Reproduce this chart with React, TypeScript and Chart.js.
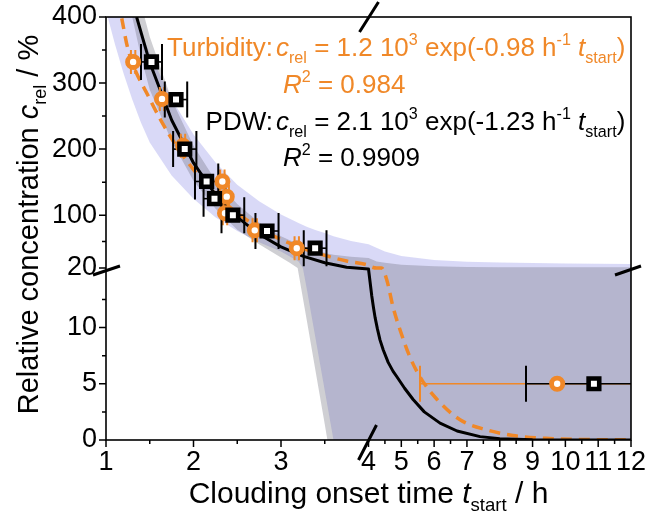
import React, { useEffect, useRef } from "react";
import { Chart, registerables } from "chart.js";
Chart.register(...registerables);

// ---------- data (t in h, c in %) ----------
const turbT = [1.31, 1.64, 1.88, 2.33, 2.38, 2.36, 2.7, 3.18, 9.75];
const turbC = [332, 276, 205, 151, 128, 103, 77, 50, 5];
const turbTErr = [0.025, 0.025, 0.025, 0.025, 0.025, 0.025, 0.025, 0.025, 4.18];

const pdwT = [1.52, 1.8, 1.9, 2.15, 2.24, 2.45, 2.84, 3.39, 10.87];
const pdwC = [332, 275, 200, 151, 125, 100, 76, 50, 5];
const pdwTErr = [0.12, 0.128, 0.133, 0.133, 0.125, 0.13, 0.132, 0.13, 2.07];

const turbFitT = [1.18, 1.25, 1.5, 1.75, 2.0, 2.25, 2.5, 2.75, 3.0, 3.25, 3.5, 3.75, 4.0, 4.1, 4.25, 4.4, 4.56, 4.75, 4.96, 5.26, 5.57, 6.09, 6.79, 7.6, 8.4, 9.4, 10.5, 12.0];
const turbFitC = [398, 352, 276, 216, 169, 132, 103, 81, 63, 50, 39, 30.5, 24, 21.5, 18.7, 16, 14.2, 11.8, 9.8, 7.4, 5.6, 3.6, 1.8, 0.9, 0.4, 0.15, 0.05, 0.01];

const pdwFitT = [1.35, 1.5, 1.75, 2.0, 2.25, 2.5, 2.75, 3.0, 3.25, 3.5, 3.75, 4.0, 4.05, 4.1, 4.15, 4.2, 4.27, 4.35, 4.45, 4.6, 4.75, 4.87, 5.1, 5.36, 5.7, 6.18, 6.7, 7.4, 8.0, 9.0, 10.0, 12.0];
const pdwFitC = [400, 331, 244, 179, 131, 97, 71, 52, 38, 28, 21, 15.2, 14.0, 12.8, 11.8, 10.9, 9.9, 8.9, 8.0, 6.9, 6.1, 5.6, 4.6, 3.6, 2.5, 1.5, 0.8, 0.3, 0.12, 0.03, 0.01, 0];

// confidence bands
const turbBandT = [1.0, 1.1, 1.2, 1.3, 1.4, 1.5, 1.75, 2.0, 2.25, 2.5, 2.75, 3.0, 3.2, 3.25, 3.3, 3.4, 3.5, 3.6, 3.8, 4.0, 4.5, 5.0, 6.0, 7.0, 8.0, 10, 12];
const turbBandHi = [545, 497, 453, 414, 378, 345, 276, 222, 180, 146, 121, 101, 88, 85, 82, 77, 73, 68, 61, 56, 45, 38, 32, 29.5, 28.5, 27, 26];
const turbBandLo = [410, 360, 315, 275, 240, 210, 160, 125, 97, 76, 59, 45, 30, 16, 13.2, 8.8, 4.4, 0, 0, 0, 0, 0, 0, 0, 0, 0, 0];

const pdwBandT = [1.2, 1.3, 1.4, 1.5, 1.75, 2.0, 2.25, 2.5, 2.75, 3.0, 3.1, 3.19, 3.3, 3.4, 3.5, 3.53, 3.6, 3.8, 4.0, 4.25, 4.5, 5.0, 6.0, 7.0, 8.0, 10, 12];
const pdwBandHi = [530, 471, 420, 370, 275, 205, 153, 117, 89, 68, 62, 57, 50, 46, 43, 42, 40, 37, 35, 30, 28, 25, 22.5, 21.5, 21.2, 21, 21];
const pdwBandLo = [460, 400, 340, 290, 212, 152, 110, 78, 56, 36, 28, 16, 10.4, 5.9, 1.4, 0, 0, 0, 0, 0, 0, 0, 0, 0, 0, 0, 0];

// ticks
const xMajor = [1, 2, 3, 4, 5, 6, 7, 8, 9, 10, 11, 12];
const xMinor = [1.5, 2.5, 3.5, 4.5, 5.5, 6.5, 7.5, 8.5, 9.5, 10.5, 11.5];
const yMajor = [0, 5, 10, 20, 100, 200, 300, 400];
const yMinor = [2.5, 7.5, 12.5, 60, 150, 250, 350];

// ---------- broken-axis transforms ----------
const X_BREAK = 4;
const X_LEFT_PER_H = 87.5;
const X_RIGHT_PER_H = 32.8125;
function tx(t: number) {
  return t <= X_BREAK ? (t - 1) * X_LEFT_PER_H : (X_BREAK - 1) * X_LEFT_PER_H + (t - X_BREAK) * X_RIGHT_PER_H;
}
const Y_LOW_PER = 11.25;
const Y_GAP_POS = 172;
const Y_LOW_TOP = Y_GAP_POS / Y_LOW_PER;
const Y_UP_START = 20;
const Y_UP_PER = 251 / 380;
function ty(c: number) {
  if (c <= Y_LOW_TOP) return c * Y_LOW_PER;
  if (c < Y_UP_START) return Y_GAP_POS;
  return Y_GAP_POS + (c - Y_UP_START) * Y_UP_PER;
}
const X_MAX = tx(12);
const Y_MAX = ty(400);

const FONT = '"Liberation Sans", Arial, Helvetica, sans-serif';
const ORANGE = "rgb(240,136,40)";

const pts = (T: number[], C: number[]) => T.map((t, i) => ({ x: tx(t), y: ty(C[i]) }));

type Kind = "n" | "i" | "sub" | "sup";
type Part = [string, Kind];
function partFont(k: Kind, size: number) {
  const s = k === "sub" || k === "sup" ? size * 0.62 : size;
  return (k === "i" ? "italic " : "") + s + "px " + FONT;
}
function richWidth(ctx: CanvasRenderingContext2D, parts: Part[], size: number) {
  let w = 0;
  for (const [t, k] of parts) {
    ctx.font = partFont(k, size);
    w += ctx.measureText(t).width;
  }
  return w;
}
function drawRich(ctx: CanvasRenderingContext2D, parts: Part[], x: number, y: number, size: number, color: string, align: "left" | "right" | "center") {
  const w = richWidth(ctx, parts, size);
  let cx = align === "left" ? x : align === "right" ? x - w : x - w / 2;
  ctx.fillStyle = color;
  ctx.textBaseline = "alphabetic";
  ctx.textAlign = "left";
  for (const [t, k] of parts) {
    ctx.font = partFont(k, size);
    const dy = k === "sub" ? size * 0.28 : k === "sup" ? -size * 0.42 : 0;
    ctx.fillText(t, cx, y + dy);
    cx += ctx.measureText(t).width;
  }
}

const decor = {
  id: "decor",
  beforeDatasetDraw(chart: any, args: any) {
    if (args.index !== 6) return;
    const { ctx, chartArea: a } = chart;
    const xs = chart.scales.x, ys = chart.scales.y;
    ctx.save();
    ctx.beginPath();
    ctx.rect(a.left, a.top, a.right - a.left, a.bottom - a.top);
    ctx.clip();
    const drawErr = (T: number[], C: number[], E: number[], color: string, capSmall: number, capBig: number) => {
      ctx.strokeStyle = color;
      for (let i = 0; i < T.length; i++) {
        const y = ys.getPixelForValue(ty(C[i]));
        const x1 = xs.getPixelForValue(tx(T[i] - E[i]));
        const x2 = xs.getPixelForValue(tx(T[i] + E[i]));
        const cap = E[i] > 1 ? capBig : capSmall;
        ctx.lineWidth = 1.6;
        ctx.beginPath();
        ctx.moveTo(x1, y);
        ctx.lineTo(x2, y);
        ctx.stroke();
        ctx.lineWidth = 2;
        ctx.beginPath();
        ctx.moveTo(x1, y - cap);
        ctx.lineTo(x1, y + cap);
        ctx.moveTo(x2, y - cap);
        ctx.lineTo(x2, y + cap);
        ctx.stroke();
      }
    };
    drawErr(turbT, turbC, turbTErr, ORANGE, 12, 18);
    drawErr(pdwT, pdwC, pdwTErr, "#000", 18, 18);
    ctx.restore();
  },
  afterDraw(chart: any) {
    const { ctx, chartArea: a } = chart;
    const xs = chart.scales.x, ys = chart.scales.y;
    ctx.save();
    // frame
    ctx.strokeStyle = "#000";
    ctx.lineWidth = 1.6;
    ctx.strokeRect(a.left, a.top, a.right - a.left, a.bottom - a.top);
    // ticks
    ctx.lineWidth = 1.5;
    ctx.beginPath();
    for (const t of xMajor) {
      const x = xs.getPixelForValue(tx(t));
      ctx.moveTo(x, a.bottom);
      ctx.lineTo(x, a.bottom + 7);
    }
    for (const t of xMinor) {
      const x = xs.getPixelForValue(tx(t));
      ctx.moveTo(x, a.bottom);
      ctx.lineTo(x, a.bottom + 4);
    }
    for (const c of yMajor) {
      const y = ys.getPixelForValue(ty(c));
      ctx.moveTo(a.left, y);
      ctx.lineTo(a.left - 7, y);
    }
    for (const c of yMinor) {
      const y = ys.getPixelForValue(ty(c));
      ctx.moveTo(a.left, y);
      ctx.lineTo(a.left - 4, y);
    }
    ctx.stroke();
    // break marks
    const xb = xs.getPixelForValue(tx(X_BREAK));
    const yb = ys.getPixelForValue(Y_GAP_POS) + 2;
    ctx.lineWidth = 3;
    ctx.beginPath();
    ctx.moveTo(xb - 9, a.top + 15);
    ctx.lineTo(xb + 10, a.top - 15);
    ctx.moveTo(xb - 10, a.bottom + 20);
    ctx.lineTo(xb + 8, a.bottom - 15);
    ctx.moveTo(a.left - 13, yb + 5);
    ctx.lineTo(a.left + 14, yb - 4);
    ctx.moveTo(a.right - 16, yb + 5);
    ctx.lineTo(a.right + 10, yb - 4);
    ctx.stroke();

    // axis titles
    drawRich(ctx, [["Clouding onset time ", "n"], ["t", "i"], ["start", "sub"], [" / h", "n"]], (a.left + a.right) / 2, 503, 30, "#000", "center");
    ctx.save();
    ctx.translate(38, (a.top + a.bottom) / 2 - 4);
    ctx.rotate(-Math.PI / 2);
    drawRich(ctx, [["Relative concentration ", "n"], ["c", "i"], ["rel", "sub"], [" / %", "n"]], 0, 0, 29, "#000", "center");
    ctx.restore();

    // fit annotations
    const fs = 26;
    drawRich(ctx, [["Turbidity:", "n"]], 273, 56, fs, ORANGE, "right");
    drawRich(ctx, [["c", "i"], ["rel", "sub"], [" = 1.2 10", "n"], ["3", "sup"], [" exp(-0.98 h", "n"], ["-1", "sup"], [" ", "n"], ["t", "i"], ["start", "sub"], [")", "n"]], 276, 56, fs, ORANGE, "left");
    drawRich(ctx, [["R", "i"], ["2", "sup"], [" = 0.984", "n"]], 283, 93, fs, ORANGE, "left");
    drawRich(ctx, [["PDW:", "n"]], 273, 130, fs, "#000", "right");
    drawRich(ctx, [["c", "i"], ["rel", "sub"], [" = 2.1 10", "n"], ["3", "sup"], [" exp(-1.23 h", "n"], ["-1", "sup"], [" ", "n"], ["t", "i"], ["start", "sub"], [")", "n"]], 276, 130, fs, "#000", "left");
    drawRich(ctx, [["R", "i"], ["2", "sup"], [" = 0.9909", "n"]], 283, 166, fs, "#000", "left");
    ctx.restore();
  },
};

export default function App() {
  const ref = useRef<HTMLCanvasElement>(null);
  useEffect(() => {
    const canvas = ref.current!;
    const band = (data: any[], color: string | false, order: number, fill: any) => ({
      data,
      borderWidth: 0,
      borderColor: "rgba(0,0,0,0)",
      backgroundColor: color || "rgba(0,0,0,0)",
      pointRadius: 0,
      fill,
      order,
      clip: 0,
      tension: 0,
    });
    const chart = new Chart(canvas, {
      type: "line",
      data: {
        datasets: [
          band(pts(turbBandT, turbBandLo), false, 20, false),
          band(pts(turbBandT, turbBandHi), "rgba(130,130,230,0.3)", 19, "-1"),
          band(pts(pdwBandT, pdwBandLo), false, 18, false),
          band(pts(pdwBandT, pdwBandHi), "rgba(95,95,110,0.3)", 17, "-1"),
          {
            data: pts(turbFitT, turbFitC),
            borderColor: ORANGE,
            borderWidth: 3.5,
            borderDash: [11, 7],
            pointRadius: 0,
            fill: false,
            order: 10,
            clip: 0,
            cubicInterpolationMode: "monotone",
          },
          {
            data: pts(pdwFitT, pdwFitC),
            borderColor: "#000",
            borderWidth: 3,
            pointRadius: 0,
            fill: false,
            order: 9,
            clip: 0,
            tension: 0,
            borderJoinStyle: "round",
          },
          {
            data: pts(turbT, turbC),
            showLine: false,
            pointStyle: "circle",
            pointRadius: 5.6,
            pointBorderWidth: 4.8,
            pointBorderColor: ORANGE,
            pointBackgroundColor: "#fff",
            order: 2,
            clip: 8,
          },
          {
            data: pts(pdwT, pdwC),
            showLine: false,
            pointStyle: "rect",
            pointRadius: 7.5,
            pointBorderWidth: 4.6,
            pointBorderColor: "#000",
            pointBackgroundColor: "#fff",
            order: 1,
            clip: 8,
          },
        ],
      } as any,
      options: {
        responsive: false,
        animation: false,
        events: [],
        layout: { padding: { left: 0, top: 17, right: 14, bottom: 0 } },
        plugins: { legend: { display: false }, tooltip: { enabled: false } },
        scales: {
          x: {
            type: "linear",
            min: 0,
            max: X_MAX,
            grid: { display: false, drawTicks: false, tickLength: 0 },
            border: { display: false },
            afterBuildTicks: (s: any) => {
              s.ticks = xMajor.map((v) => ({ value: tx(v) }));
            },
            afterFit: (s: any) => {
              s.height = 86;
              s.paddingLeft = 0;
              s.paddingRight = 0;
            },
            ticks: {
              autoSkip: false,
              maxRotation: 0,
              minRotation: 0,
              padding: 6,
              color: "#000",
              font: { family: FONT, size: 27 },
              callback: (_v: any, i: number) => String(xMajor[i]),
            },
          },
          y: {
            type: "linear",
            min: 0,
            max: Y_MAX,
            grid: { display: false, drawTicks: false, tickLength: 0 },
            border: { display: false },
            afterBuildTicks: (s: any) => {
              s.ticks = yMajor.map((v) => ({ value: ty(v) }));
            },
            afterFit: (s: any) => {
              s.width = 106;
              s.paddingTop = 0;
              s.paddingBottom = 0;
            },
            ticks: {
              autoSkip: false,
              padding: 9,
              color: "#000",
              font: { family: FONT, size: 27 },
              callback: (_v: any, i: number) => String(yMajor[i]),
            },
          },
        },
      } as any,
      plugins: [decor as any],
    });
    return () => chart.destroy();
  }, []);
  return (
    <div style={{ position: "absolute", left: 0, top: 0, width: 645, height: 526, background: "#fff" }}>
      <canvas ref={ref} width={645} height={526} style={{ display: "block" }} />
    </div>
  );
}
